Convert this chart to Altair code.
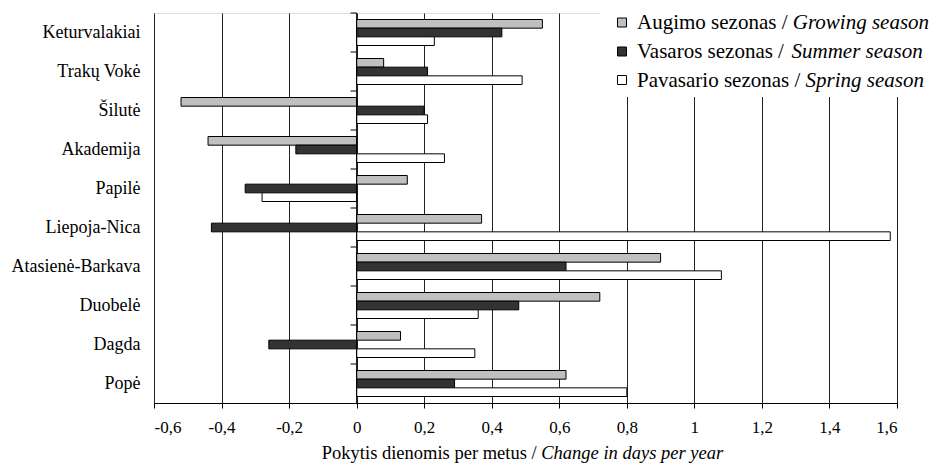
import altair as alt
import pandas as pd

stations = ["Keturvalakiai", "Trakų Vokė", "Šilutė", "Akademija", "Papilė",
            "Liepoja-Nica", "Atasienė-Barkava", "Duobelė", "Dagda", "Popė"]
growing = [0.55, 0.08, -0.52, -0.44, 0.15, 0.37, 0.90, 0.72, 0.13, 0.62]
summer = [0.43, 0.21, 0.20, -0.18, -0.33, -0.43, 0.62, 0.48, -0.26, 0.29]
spring = [0.23, 0.49, 0.21, 0.26, -0.28, 1.58, 1.08, 0.36, 0.35, 0.80]

series_keys = ["Augimo", "Vasaros", "Pavasario"]
series_regular = ["Augimo sezonas /", "Vasaros sezonas /", "Pavasario sezonas /"]
series_italic = ["Growing season", "Summer season", "Spring season"]
series_colors = ["#c0c0c0", "#333333", "#ffffff"]

x_ticks = [-0.6, -0.4, -0.2, 0, 0.2, 0.4, 0.6, 0.8, 1, 1.2, 1.4, 1.6]
title_regular = "Pokytis dienomis per metus /"
title_italic = "Change in days per year"

FONT = "Liberation Serif"
W, H = 743, 390

# approximate Times / Liberation Serif advance widths (per 1000 em) for layout of mixed-style text
ROMAN = {" ": 250, "/": 278, "A": 722, "P": 556, "V": 722, "a": 444, "d": 500, "e": 444,
         "g": 500, "i": 278, "k": 500, "m": 778, "n": 500, "o": 500, "p": 500, "r": 333,
         "s": 389, "t": 278, "u": 500, "v": 500, "y": 500, "z": 444}
ITALIC = {" ": 250, "C": 667, "G": 722, "S": 500, "a": 500, "d": 500, "e": 444, "g": 500,
          "h": 500, "i": 278, "m": 722, "n": 500, "o": 500, "p": 500, "r": 389, "s": 389,
          "u": 500, "w": 667, "y": 444}


def tw(s, size, table):
    return sum(table.get(c, 500) for c in s) * size / 1000.0


rows = []
for vals, key in zip([growing, summer, spring], series_keys):
    for s, v in zip(stations, vals):
        rows.append({"station": s, "series": key, "value": v})
df = pd.DataFrame(rows)
one = pd.DataFrame({"a": [0]})

y_enc = alt.Y("station:N", sort=stations,
              scale=alt.Scale(paddingInner=0, paddingOuter=0),
              axis=alt.Axis(title=None, domain=False, ticks=False, grid=False,
                            labelPadding=14, labelFontSize=18, labelFont=FONT,
                            labelColor="black"))

bars = alt.Chart(df).mark_bar(stroke="black", strokeWidth=1).encode(
    y=y_enc,
    yOffset=alt.YOffset("series:N", sort=series_keys,
                        scale=alt.Scale(paddingInner=0, paddingOuter=0.75)),
    x=alt.X("value:Q",
            scale=alt.Scale(domain=[-0.6, 1.6], nice=False, zero=False),
            axis=alt.Axis(title=None, values=x_ticks, grid=True, gridColor="#222222",
                          gridOpacity=1, gridWidth=1, domainColor="black",
                          tickColor="black", tickSize=5, labelFont=FONT,
                          labelFontSize=17, labelColor="black", labelPadding=11,
                          labelExpr="(datum.value < 0 ? '-' : '') + replace(format(abs(datum.value), '~g'), '.', ',')")),
    color=alt.Color("series:N", scale=alt.Scale(domain=series_keys, range=series_colors),
                    legend=None),
)

zero_line = alt.Chart(one).mark_rule(color="black", strokeWidth=1).encode(x=alt.datum(0))

ticks = alt.Chart(pd.DataFrame({"station": stations})).mark_rule(
    color="black", strokeWidth=1).encode(
    y=alt.Y("station:N", sort=stations, bandPosition=0),
    x=alt.datum(0), x2=alt.datum(-0.018))

layers = [bars, zero_line, ticks]

# legend background box
layers.append(alt.Chart(one).mark_rect(fill="white").encode(
    x=alt.value(446), x2=alt.value(790), y=alt.value(-13), y2=alt.value(84)))

LEG_FS = 21
leg_x = 483
leg_y = [16, 45, 73.5]
for i in range(3):
    layers.append(alt.Chart(one).mark_square(size=81, stroke="black", strokeWidth=1,
                                              opacity=1, fill=series_colors[i]).encode(
        x=alt.value(468), y=alt.value(leg_y[i] - 6.5)))
    layers.append(alt.Chart(one).mark_text(align="left", baseline="alphabetic",
                                            font=FONT, fontSize=LEG_FS, color="black").encode(
        x=alt.value(leg_x), y=alt.value(leg_y[i]),
        text=alt.value(series_regular[i])))
    ix = leg_x + tw(series_regular[i] + " ", LEG_FS, ROMAN)
    layers.append(alt.Chart(one).mark_text(align="left", baseline="alphabetic",
                                            font=FONT, fontSize=LEG_FS, fontStyle="italic",
                                            color="black").encode(
        x=alt.value(ix), y=alt.value(leg_y[i]),
        text=alt.value(series_italic[i])))

TFS = 18.5
t_reg_w = tw(title_regular + " ", TFS, ROMAN)
t_it_w = tw(title_italic, TFS, ITALIC)
t_start = 368.5 - (t_reg_w + t_it_w) / 2
layers.append(alt.Chart(one).mark_text(align="left", baseline="alphabetic", font=FONT,
                                        fontSize=TFS, color="black").encode(
    x=alt.value(t_start), y=alt.value(446), text=alt.value(title_regular)))
layers.append(alt.Chart(one).mark_text(align="left", baseline="alphabetic", font=FONT,
                                        fontSize=TFS, fontStyle="italic", color="black").encode(
    x=alt.value(t_start + t_reg_w), y=alt.value(446), text=alt.value(title_italic)))

chart = alt.layer(*layers).properties(
    width=W, height=H,
    autosize=alt.AutoSizeParams(type="none"),
    padding={"left": 146, "top": 5, "right": 34, "bottom": 60},
).configure_view(stroke="black", strokeWidth=1).configure(background="white")

chart.save("out.html", embed_options={"renderer": "svg", "actions": False})
